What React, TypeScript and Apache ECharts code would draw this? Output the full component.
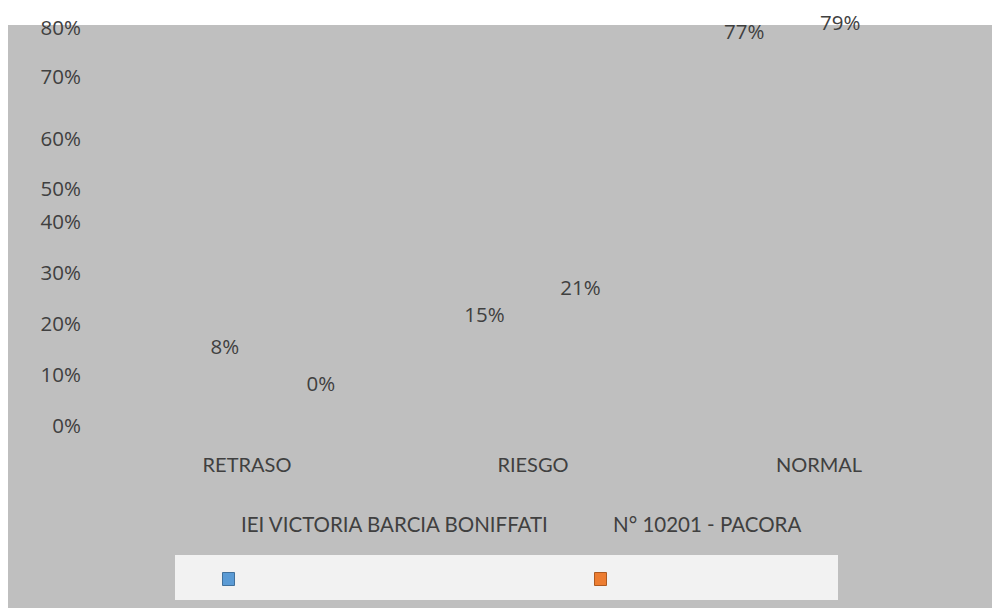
import React, { useEffect, useRef } from "react";
import * as echarts from "echarts";

const categories = ["RETRASO", "RIESGO", "NORMAL"];
const seriesNames = ["Serie 1", "Serie 2"];
const seriesA = [8, 15, 77];
const seriesB = [0, 21, 79];
const tickLabels = ["0%", "10%", "20%", "30%", "40%", "50%", "60%", "70%", "80%"];
const tickValues = [0, 10.3, 20.6, 30.8, 41.1, 47.6, 57.7, 70.1, 80];
const titleLeft = "IEI VICTORIA BARCIA BONIFFATI";
const titleRight = "N° 10201 - PACORA";

const TXT = "#404040";
const NUM_FONT = "'Open Sans', sans-serif";
const CAT_FONT = "Lato, sans-serif";

export default function App() {
  const ref = useRef<HTMLDivElement>(null);
  useEffect(() => {
    if (!ref.current) return;
    const chart = echarts.init(ref.current, null, { renderer: "svg" });
    chart.setOption({
      animation: false,
      backgroundColor: "#ffffff",
      graphic: [
        { type: "rect", z: -10, silent: true, shape: { x: 0, y: 17, width: 984, height: 583 }, style: { fill: "#BFBFBF" } },
        { type: "rect", z: -9, silent: true, shape: { x: 167, y: 547, width: 663, height: 45 }, style: { fill: "#F2F2F2" } },
      ],
      title: [
        { text: titleLeft, left: 233, top: 505, padding: 0, textStyle: { fontFamily: CAT_FONT, fontWeight: "normal", fontSize: 20.5, color: TXT } },
        { text: titleRight, left: 605, top: 505, padding: 0, textStyle: { fontFamily: CAT_FONT, fontWeight: "normal", fontSize: 20.5, color: TXT } },
      ],
      legend: [
        {
          data: [{ name: seriesNames[0], itemStyle: { color: "#5B9BD5", borderColor: "#41719C", borderWidth: 1 } }],
          left: 214, top: 564, itemWidth: 12, itemHeight: 13, padding: 0, icon: "rect",
          formatter: () => "", selectedMode: false,
        },
        {
          data: [{ name: seriesNames[1], itemStyle: { color: "#ED7D31", borderColor: "#AE5A21", borderWidth: 1 } }],
          left: 586, top: 564, itemWidth: 12, itemHeight: 13, padding: 0, icon: "rect",
          formatter: () => "", selectedMode: false,
        },
      ],
      grid: [
        { left: 96, top: 18.7, width: 858, height: 398.6, containLabel: false },
        { left: 135, top: 24, width: 779, height: 365, containLabel: false },
      ],
      xAxis: [
        {
          type: "category", gridIndex: 0, data: categories,
          axisLine: { show: false }, axisTick: { show: false }, splitLine: { show: false },
          axisLabel: { margin: 29, fontFamily: CAT_FONT, fontSize: 20, color: TXT },
        },
        { type: "category", gridIndex: 1, data: categories, show: false },
      ],
      yAxis: [
        {
          type: "value", gridIndex: 0, min: 0, max: 80,
          axisLine: { show: false }, axisTick: { show: false }, splitLine: { show: false },
          axisLabel: {
            customValues: tickValues,
            margin: 23, fontFamily: NUM_FONT, fontSize: 20.5, color: TXT,
            formatter: (v: number) => {
              const i = tickValues.findIndex((t) => Math.abs(t - v) < 0.01);
              return i >= 0 ? tickLabels[i] : "";
            },
          },
        },
        { type: "value", gridIndex: 1, min: 0, max: 80, show: false },
      ],
      series: [
        {
          name: seriesNames[0], type: "bar", xAxisIndex: 1, yAxisIndex: 1, data: seriesA,
          barWidth: 60, barGap: "60%",
          itemStyle: { color: "rgba(0,0,0,0)" },
          label: { show: true, position: "top", distance: 4, formatter: "{c}%", fontFamily: NUM_FONT, fontSize: 20.5, color: TXT },
        },
        {
          name: seriesNames[1], type: "bar", xAxisIndex: 1, yAxisIndex: 1, data: seriesB,
          barWidth: 60, barGap: "60%",
          itemStyle: { color: "rgba(0,0,0,0)" },
          label: { show: true, position: "top", distance: 4, formatter: "{c}%", fontFamily: NUM_FONT, fontSize: 20.5, color: TXT },
        },
      ],
    });
    return () => chart.dispose();
  }, []);
  return (
    <div
      ref={ref}
      style={{ position: "absolute", left: 8, top: 8, width: 984, height: 600 }}
    />
  );
}
